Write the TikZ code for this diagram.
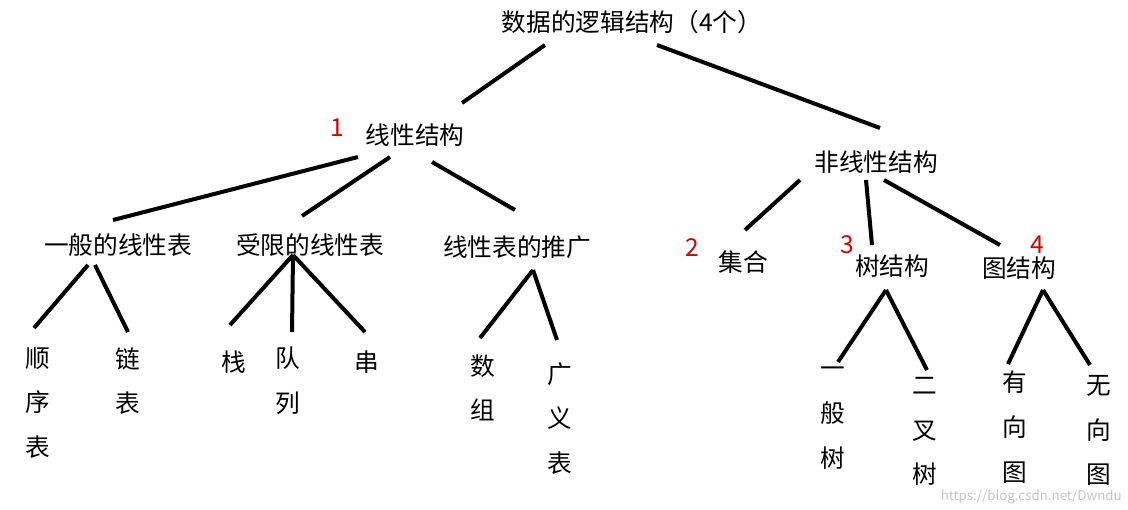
\documentclass[tikz,border=0pt]{standalone}
\usepackage{fontspec}
\setmainfont{Noto Sans CJK SC}
\begin{document}
\begin{tikzpicture}[x=0.75pt,y=-0.75pt,
  t/.style={inner sep=0pt,font=\fontsize{18.5}{20}\selectfont},
  num/.style={inner sep=0pt,text=red!85!black,font=\fontsize{18.5}{20}\selectfont},
  v/.style={inner sep=0pt,align=center,font=\fontsize{18.5}{33.5}\selectfont},
  ln/.style={line width=3pt}]
\useasboundingbox[fill=white] (0,0) rectangle (1128,510);
\node[t] (root) at (632,22) {数据的逻辑结构（4个）};
\node[num] (n1) at (337,128) {1};
\node[t] (lin) at (415,135) {线性结构};
\node[t] (non) at (876,162) {非线性结构};
\node[t] (gen) at (118,245) {一般的线性表};
\node[t] (res) at (310,245) {受限的线性表};
\node[t] (ext) at (517,247) {线性表的推广};
\node[num] (n2) at (692,248) {2};
\node[t] (set) at (743,262) {集合};
\node[num] (n3) at (847,245) {3};
\node[t] (tree) at (892,266) {树结构};
\node[num] (n4) at (1037,245) {4};
\node[t] (graph) at (1019,268) {图结构};
\node[v,anchor=north] (seq) at (38,347) {顺\\序\\表};
\node[v,anchor=north] (link) at (128,347) {链\\表};
\node[t] (stack) at (234,362) {栈};
\node[v,anchor=north] (queue) at (288,347) {队\\列};
\node[t] (str) at (367,362) {串};
\node[v,anchor=north] (arr) at (483,354) {数\\组};
\node[v,anchor=north] (gl) at (560,362) {广\\义\\表};
\node[v,anchor=north] (gt) at (833,367) {一\\般\\树};
\node[v,anchor=north] (bt) at (925,377) {二\\叉\\树};
\node[v,anchor=north] (dg) at (1015,371) {有\\向\\图};
\node[v,anchor=north] (ug) at (1099,375) {无\\向\\图};
\node[inner sep=0pt,anchor=east,text=gray!45,font=\fontsize{10}{12}\selectfont] (wm) at (1122,497) {https://blog.csdn.net/Dwndu};
% connector ends
\foreach \n/\x/\y in {a/545/45,b/462/103,c/657/45,d/880/128,e/358/157,f/113/220,g/390/157,h/302/216,
  i/432/162,j/515/210,k/800/180,l/745/230,m/866/180,o/872/245,p/884/180,q/1000/245,
  r/88/265,s/34/328,r2/95/265,u/128/332,w/293/255,x1/230/325,x2/292/332,x3/365/332,
  y/533/270,y1/480/338,y2/557/340,z/886/290,z1/838/362,z2/927/370,zz/1043/290,zz1/1008/364,zz2/1090/365}
  \coordinate (\n) at (\x,\y);
\draw[ln] (a)--(b); \draw[ln] (c)--(d);
\draw[ln] (e)--(f); \draw[ln] (g)--(h); \draw[ln] (i)--(j);
\draw[ln] (k)--(l); \draw[ln] (m)--(o); \draw[ln] (p)--(q);
\draw[ln] (r)--(s); \draw[ln] (r2)--(u);
\draw[ln] (w)--(x1); \draw[ln] (w)--(x2); \draw[ln] (w)--(x3);
\draw[ln] (y)--(y1); \draw[ln] (y)--(y2);
\draw[ln] (z)--(z1); \draw[ln] (z)--(z2);
\draw[ln] (zz)--(zz1); \draw[ln] (zz)--(zz2);
\end{tikzpicture}
\end{document}
